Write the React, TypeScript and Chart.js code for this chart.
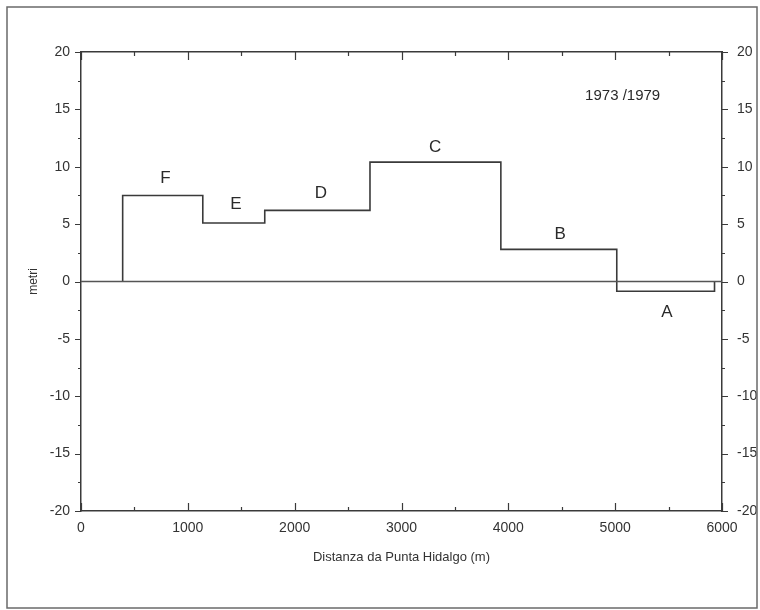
import React, { useEffect, useRef } from 'react';
import { Chart, registerables } from 'chart.js';

Chart.register(...registerables);

// Segment boundaries along the coast (m) and the change in each segment (m)
const segmentEdges = [390, 1140, 1720, 2705, 3930, 5015, 5930];
const segmentNames = ['F', 'E', 'D', 'C', 'B', 'A'];
const segmentValues = [7.5, 5.1, 6.2, 10.4, 2.8, -0.85];
// label anchor positions in data units
const labelX = [790, 1450, 2245, 3315, 4485, 5485];
const labelY = [9.0, 6.7, 7.7, 11.7, 4.1, -2.7];
const periodLabel = '1973 /1979';
const periodX = 5070;
const periodY = 16.2;
const xTitle = 'Distanza da Punta Hidalgo (m)';
const yTitle = 'metri';
const xRange = [0, 6000];
const yRange = [-20, 20];
const xMajor = 1000;
const xMinor = 500;
const yMajor = 5;
const yMinor = 2.5;

const FONT = '"Liberation Sans", Arial, sans-serif';
const INK = '#3a3a3a';

function buildStep() {
  const pts: { x: number; y: number }[] = [{ x: segmentEdges[0], y: 0 }];
  for (let i = 0; i < segmentValues.length; i++) {
    pts.push({ x: segmentEdges[i], y: segmentValues[i] });
    pts.push({ x: segmentEdges[i + 1], y: segmentValues[i] });
  }
  pts.push({ x: segmentEdges[segmentEdges.length - 1], y: 0 });
  return pts;
}

const plainNumber = (v: any) => String(v);

const decorPlugin = {
  id: 'decor',
  beforeDraw(chart: any) {
    const { ctx, width, height } = chart;
    ctx.save();
    ctx.fillStyle = '#ffffff';
    ctx.fillRect(0, 0, width, height);
    ctx.restore();
  },
  afterDraw(chart: any) {
    const { ctx, chartArea } = chart;
    const xs = chart.scales.x;
    const ys = chart.scales.y;
    const { left, right, top, bottom } = chartArea;
    ctx.save();
    // outer frame
    ctx.strokeStyle = '#6a6a6a';
    ctx.lineWidth = 1.5;
    ctx.strokeRect(7, 7, 750, 601);

    // ticks
    ctx.strokeStyle = INK;
    ctx.lineWidth = 1.2;
    ctx.beginPath();
    for (let v = xRange[0]; v <= xRange[1] + 1e-6; v += xMinor) {
      const major = Math.abs(v % xMajor) < 1e-6;
      const len = major ? 8 : 4;
      const px = Math.round(xs.getPixelForValue(v)) + 0.5;
      ctx.moveTo(px, bottom);
      ctx.lineTo(px, bottom - len);
      ctx.moveTo(px, top);
      ctx.lineTo(px, top + len);
    }
    for (let v = yRange[0]; v <= yRange[1] + 1e-6; v += yMinor) {
      const major = Math.abs(v % yMajor) < 1e-6;
      const len = major ? 6 : 3;
      const py = Math.round(ys.getPixelForValue(v)) + 0.5;
      ctx.moveTo(left, py);
      ctx.lineTo(left - len, py);
      ctx.moveTo(right, py);
      ctx.lineTo(right + len, py);
    }
    ctx.stroke();

    // segment labels
    ctx.fillStyle = '#2a2a2a';
    ctx.textAlign = 'center';
    ctx.textBaseline = 'middle';
    ctx.font = `17px ${FONT}`;
    segmentNames.forEach((n, i) => {
      ctx.fillText(n, xs.getPixelForValue(labelX[i]), ys.getPixelForValue(labelY[i]));
    });
    ctx.font = `15px ${FONT}`;
    ctx.fillText(periodLabel, xs.getPixelForValue(periodX), ys.getPixelForValue(periodY));
    ctx.restore();
  },
};

export default function App() {
  const ref = useRef<HTMLCanvasElement | null>(null);

  useEffect(() => {
    if (!ref.current) return;
    const tickFont = { family: FONT, size: 14 };
    const chart = new Chart(ref.current, {
      type: 'line',
      data: {
        datasets: [
          {
            label: 'zero',
            data: [
              { x: xRange[0], y: 0 },
              { x: xRange[1], y: 0 },
            ],
            borderColor: '#555555',
            borderWidth: 1.5,
            pointRadius: 0,
            tension: 0,
          },
          {
            label: 'variazione',
            data: buildStep(),
            borderColor: INK,
            borderWidth: 1.6,
            pointRadius: 0,
            tension: 0,
          },
        ],
      },
      options: {
        responsive: false,
        animation: false,
        events: [],
        layout: { padding: 0 },
        plugins: {
          legend: { display: false },
          tooltip: { enabled: false },
          title: { display: false },
        },
        scales: {
          x: {
            type: 'linear',
            position: 'bottom',
            min: xRange[0],
            max: xRange[1],
            grid: { display: false },
            border: { display: true, color: INK, width: 1.5 },
            ticks: {
              stepSize: xMajor,
              color: '#333',
              font: tickFont,
              padding: 1,
              maxRotation: 0,
              autoSkip: false,
              callback: plainNumber,
            },
            title: {
              display: true,
              text: xTitle,
              color: '#333',
              font: { family: FONT, size: 13 },
              padding: { top: 0, bottom: 45 },
            },
            afterFit: (s: any) => {
              s.height = 99;
            },
          },
          x2: {
            type: 'linear',
            position: 'top',
            min: xRange[0],
            max: xRange[1],
            grid: { display: false },
            border: { display: true, color: INK, width: 1.5 },
            ticks: { display: false },
            afterFit: (s: any) => {
              s.height = 52;
            },
          },
          y: {
            type: 'linear',
            position: 'left',
            min: yRange[0],
            max: yRange[1],
            grid: { display: false },
            border: { display: true, color: INK, width: 1.5 },
            ticks: { stepSize: yMajor, color: '#333', font: tickFont, padding: 3, callback: plainNumber },
            title: {
              display: true,
              text: yTitle,
              color: '#333',
              font: { family: FONT, size: 12 },
              padding: { top: 26, bottom: 0 },
            },
            afterFit: (s: any) => {
              s.width = 81;
            },
          },
          y2: {
            type: 'linear',
            position: 'right',
            min: yRange[0],
            max: yRange[1],
            grid: { display: false },
            border: { display: true, color: INK, width: 1.5 },
            ticks: { stepSize: yMajor, color: '#333', font: tickFont, padding: 7, callback: plainNumber },
            afterFit: (s: any) => {
              s.width = 38;
            },
          },
        },
      },
      plugins: [decorPlugin],
    } as any);
    return () => chart.destroy();
  }, []);

  return (
    <div style={{ position: 'absolute', left: 0, top: 0, width: 760, height: 610 }}>
      <canvas ref={ref} width={760} height={610} style={{ display: 'block' }} />
    </div>
  );
}
